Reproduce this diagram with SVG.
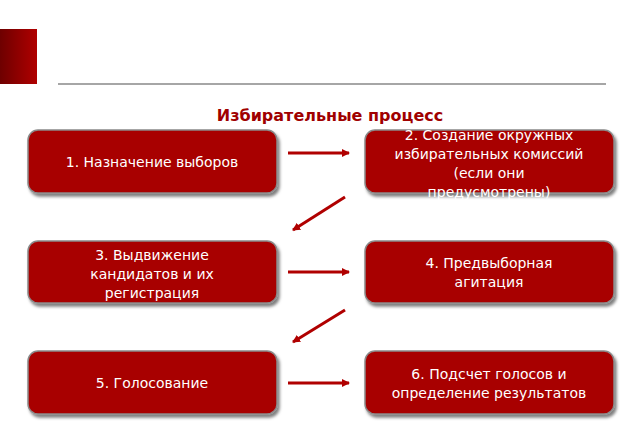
<svg xmlns="http://www.w3.org/2000/svg" width="640" height="443" viewBox="0 0 640 443">
<defs>
<linearGradient id="g" x1="0" x2="1"><stop offset="0" stop-color="#6e0000"/><stop offset="1" stop-color="#b00000"/></linearGradient>
<filter id="sh" x="-10%" y="-10%" width="130%" height="140%"><feDropShadow dx="2" dy="3" stdDeviation="1.5" flood-color="#000" flood-opacity="0.5"/></filter>
<marker id="ah" markerWidth="8" markerHeight="8" refX="7" refY="4" orient="auto" markerUnits="userSpaceOnUse"><path d="M0,0 L8,4 L0,8 z" fill="#b00000"/></marker>
</defs>
<style>
.box{fill:#a80000;stroke:#8a8a8a;stroke-width:1.5;filter:url(#sh)}
.t{font-family:"DejaVu Sans",sans-serif;font-size:14px;fill:#fff;text-anchor:middle}
.c{stroke:#b00000;stroke-width:3;fill:none;marker-end:url(#ah)}
</style>
<rect x="0" y="29" width="37" height="55" fill="url(#g)"/>
<line x1="58" y1="84" x2="606" y2="84" stroke="#888" stroke-width="1.5"/>
<text x="330" y="121" font-family="DejaVu Sans,sans-serif" font-size="16" font-weight="bold" fill="#a00000" text-anchor="middle">Избирательные процесс</text>
<g id="n1"><rect class="box" x="28" y="130" width="249" height="63" rx="10"/><text class="t" x="152" y="167">1. Назначение выборов</text></g>
<g id="n2"><rect class="box" x="365" y="130" width="249" height="63" rx="10"/><text class="t" x="489" y="140">2. Создание окружных</text><text class="t" x="489" y="159">избирательных комиссий</text><text class="t" x="489" y="178">(если они</text><text class="t" x="489" y="197">предусмотрены)</text></g>
<g id="n3"><rect class="box" x="28" y="241" width="249" height="62" rx="10"/><text class="t" x="152" y="260">3. Выдвижение</text><text class="t" x="152" y="279">кандидатов и их</text><text class="t" x="152" y="298">регистрация</text></g>
<g id="n4"><rect class="box" x="365" y="241" width="249" height="62" rx="10"/><text class="t" x="489" y="268">4. Предвыборная</text><text class="t" x="489" y="287">агитация</text></g>
<g id="n5"><rect class="box" x="28" y="351" width="249" height="63" rx="10"/><text class="t" x="152" y="388">5. Голосование</text></g>
<g id="n6"><rect class="box" x="365" y="351" width="249" height="63" rx="10"/><text class="t" x="489" y="379">6. Подсчет голосов и</text><text class="t" x="489" y="398">определение результатов</text></g>
<g id="connectors">
<line class="c" x1="288" y1="153" x2="349" y2="153"/>
<line class="c" x1="345" y1="197" x2="293" y2="230"/>
<line class="c" x1="288" y1="272" x2="349" y2="272"/>
<line class="c" x1="345" y1="310" x2="293" y2="342"/>
<line class="c" x1="288" y1="383" x2="349" y2="383"/>
</g>
</svg>
